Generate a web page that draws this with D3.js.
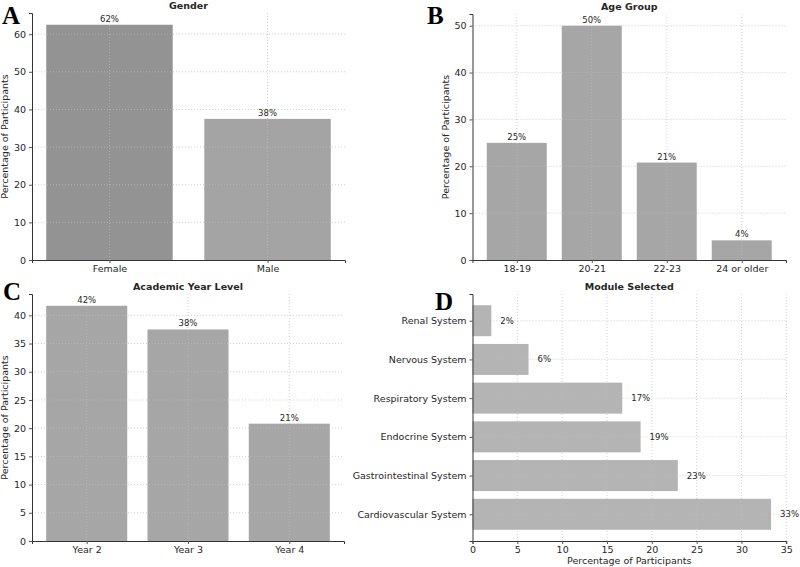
<!DOCTYPE html>
<html>
<head>
<meta charset="utf-8">
<script src="https://d3js.org/d3.v7.min.js"></script>
<style>
body {margin: 0; background: #fff;}
text {font-family: "DejaVu Sans";}
text.letter {font-family: "Liberation Serif";}
</style>
</head>
<body>
<div id="chart"></div>
<script>
// data (percent of participants)
var genderCats = ["Female", "Male"];
var genderVals = [62.5, 37.5];
var ageCats = ["18-19", "20-21", "22-23", "24 or older"];
var ageVals = [25, 50, 20.8, 4.2];
var yearCats = ["Year 2", "Year 3", "Year 4"];
var yearVals = [41.7, 37.5, 20.8];
var moduleCats = ["Cardiovascular System", "Gastrointestinal System", "Endocrine System",
	"Respiratory System", "Nervous System", "Renal System"];
var moduleVals = [33.3, 22.9, 18.75, 16.7, 6.25, 2.1];

var width = 800;
var height = 567;
var gridColor = "#bdbdbd";
var textColor = "#262626";

var svg = d3.select("#chart").append("svg")
	.attr("width", width)
	.attr("height", height);

// round half to even like the original labels
function pct(v) {
	var f = Math.floor(v);
	var r = Math.abs(v - f - 0.5) < 1e-9 ? (f % 2 == 0 ? f : f + 1) : Math.round(v);
	return r + "%";
}

function catScale(n, a, b) {
	var m = 0.05 * (n - 1 + 0.8);
	return d3.scaleLinear().domain([-0.4 - m, n - 1 + 0.4 + m]).range([a, b]);
}

function tickList(max, step) {
	return d3.range(0, max + step * 0.05, step);
}

function styleAxis(g) {
	g.select(".domain").attr("stroke", "#333").attr("stroke-width", 1);
	g.selectAll(".tick line").attr("stroke", "#555");
	g.selectAll("text").attr("fill", textColor).attr("font-size", "9.5px");
}

function vbar(box, cats, vals, step, title, color) {
	var x = catScale(cats.length, box.left, box.right);
	var y = d3.scaleLinear().domain([0, d3.max(vals) * 1.05]).range([box.bottom, box.top]);
	var ticks = tickList(y.domain()[1], step);
	var g = svg.append("g");

	var bw = x(0.4) - x(-0.4);
	g.selectAll("rect.bar").data(vals).enter().append("rect")
		.attr("x", function(d, i) { return x(i - 0.4); })
		.attr("y", function(d) { return y(d); })
		.attr("width", bw)
		.attr("height", function(d) { return y(0) - y(d); })
		.attr("fill", function(d, i) { return typeof color == "function" ? color(i) : color; });

	// dotted grid
	var grid = g.append("g").attr("stroke", gridColor).attr("stroke-dasharray", "1,2").attr("opacity", 0.7);
	ticks.forEach(function(t) {
		if (t == 0) return;
		grid.append("line").attr("x1", box.left).attr("x2", box.right).attr("y1", y(t)).attr("y2", y(t));
	});
	cats.forEach(function(c, i) {
		grid.append("line").attr("x1", x(i)).attr("x2", x(i)).attr("y1", box.top).attr("y2", box.bottom);
	});

	g.selectAll("text.val").data(vals).enter().append("text")
		.attr("x", function(d, i) { return x(i); })
		.attr("y", function(d) { return y(d) - 3; })
		.attr("text-anchor", "middle")
		.attr("font-size", "8.5px")
		.attr("fill", textColor)
		.text(function(d) { return pct(d); });

	g.append("g").attr("transform", "translate(" + box.left + ",0)")
		.call(d3.axisLeft(y).tickValues(ticks).tickSize(3).tickPadding(3))
		.call(styleAxis);
	g.append("g").attr("transform", "translate(0," + box.bottom + ")")
		.call(d3.axisBottom(x).tickValues(d3.range(cats.length)).tickFormat(function(i) { return cats[i]; })
			.tickSize(3).tickPadding(2))
		.call(styleAxis);

	g.append("text")
		.attr("transform", "translate(" + (box.left - 24) + "," + ((box.top + box.bottom) / 2) + ") rotate(-90)")
		.attr("text-anchor", "middle")
		.attr("font-size", "9.5px")
		.attr("fill", textColor)
		.text("Percentage of Participants");

	g.append("text")
		.attr("x", (box.left + box.right) / 2)
		.attr("y", box.top - 4)
		.attr("text-anchor", "middle")
		.attr("font-size", "9.5px")
		.attr("font-weight", "bold")
		.attr("fill", textColor)
		.text(title);
}

function hbar(box, cats, vals, step, title, color) {
	var y = catScale(cats.length, box.bottom, box.top);
	var x = d3.scaleLinear().domain([0, d3.max(vals) * 1.05]).range([box.left, box.right]);
	var ticks = tickList(x.domain()[1], step);
	var g = svg.append("g");

	var bh = y(-0.4) - y(0.4);
	g.selectAll("rect.bar").data(vals).enter().append("rect")
		.attr("x", x(0))
		.attr("y", function(d, i) { return y(i + 0.4); })
		.attr("width", function(d) { return x(d) - x(0); })
		.attr("height", bh)
		.attr("fill", color);

	var grid = g.append("g").attr("stroke", gridColor).attr("stroke-dasharray", "1,2").attr("opacity", 0.7);
	ticks.forEach(function(t) {
		if (t == 0) return;
		grid.append("line").attr("x1", x(t)).attr("x2", x(t)).attr("y1", box.top).attr("y2", box.bottom);
	});
	cats.forEach(function(c, i) {
		grid.append("line").attr("x1", box.left).attr("x2", box.right).attr("y1", y(i)).attr("y2", y(i));
	});

	g.selectAll("text.val").data(vals).enter().append("text")
		.attr("x", function(d) { return x(d) + 9; })
		.attr("y", function(d, i) { return y(i); })
		.attr("dy", "0.35em")
		.attr("font-size", "8.5px")
		.attr("fill", textColor)
		.text(function(d) { return pct(d); });

	g.append("g").attr("transform", "translate(" + box.left + ",0)")
		.call(d3.axisLeft(y).tickValues(d3.range(cats.length)).tickFormat(function(i) { return cats[i]; })
			.tickSize(3).tickPadding(3))
		.call(styleAxis);
	g.append("g").attr("transform", "translate(0," + box.bottom + ")")
		.call(d3.axisBottom(x).tickValues(ticks).tickSize(3).tickPadding(2))
		.call(styleAxis);

	g.append("text")
		.attr("x", (box.left + box.right) / 2)
		.attr("y", box.bottom + 23)
		.attr("text-anchor", "middle")
		.attr("font-size", "9.5px")
		.attr("fill", textColor)
		.text("Percentage of Participants");

	g.append("text")
		.attr("x", (box.left + box.right) / 2)
		.attr("y", box.top - 4)
		.attr("text-anchor", "middle")
		.attr("font-size", "9.5px")
		.attr("font-weight", "bold")
		.attr("fill", textColor)
		.text(title);
}

vbar({left: 32, right: 345, top: 13, bottom: 260}, genderCats, genderVals, 10, "Gender",
	function(i) { return i == 0 ? "#939393" : "#a4a4a4"; });
vbar({left: 472.5, right: 786, top: 14, bottom: 260}, ageCats, ageVals, 10, "Age Group", "#a6a6a6");
vbar({left: 32, right: 344, top: 294, bottom: 541}, yearCats, yearVals, 5, "Academic Year Level", "#a6a6a6");
hbar({left: 472.5, right: 786, top: 294, bottom: 541}, moduleCats, moduleVals, 5, "Module Selected", "#b4b4b4");

// panel letters
var letters = [["A", 2, 24], ["B", 427, 24], ["C", 3, 300], ["D", 435, 310]];
letters.forEach(function(l) {
	svg.append("text")
		.attr("class", "letter")
		.attr("x", l[1])
		.attr("y", l[2])
		.attr("font-weight", "bold")
		.attr("font-size", "25px")
		.attr("fill", "#000")
		.text(l[0]);
});
</script>
</body>
</html>
